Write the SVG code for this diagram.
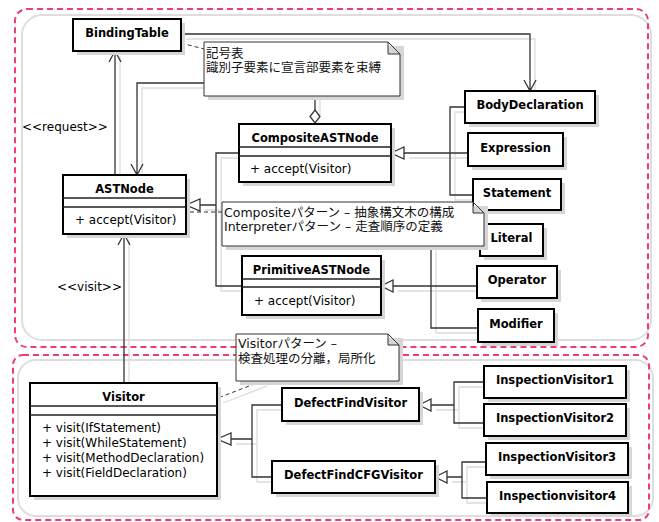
<svg xmlns="http://www.w3.org/2000/svg" width="659" height="522" viewBox="0 0 659 522">
<style>
.pk{fill:none;stroke:#ee3d70;stroke-width:2;stroke-dasharray:6 4}
.gr{fill:none;stroke:#dedede;stroke-width:2}
.sh{fill:#d6d6d6}
.box{fill:#fff;stroke:#000;stroke-width:2}
.sep{stroke:#222;stroke-width:1.3}
.nm{font-family:"DejaVu Sans",sans-serif;font-weight:bold;font-size:11.5px;text-anchor:middle;fill:#000}
.mb{font-family:"DejaVu Sans",sans-serif;font-size:12px;fill:#000}
.note{fill:#fff;stroke:#333;stroke-width:1}
.nt{font-family:"DejaVu Sans","Noto Sans CJK JP",sans-serif;font-size:12.5px;fill:#111}
.ln{fill:none;stroke:#333;stroke-width:1.3}
.lsh{fill:none;stroke:#dcdcdc;stroke-width:1.3}
.dash{fill:none;stroke:#333;stroke-width:1;stroke-dasharray:4 3}
.tri{fill:#fff;stroke:#333;stroke-width:1.3}
.lbl{font-family:"DejaVu Sans",sans-serif;font-size:12px;fill:#000}
</style>
<rect width="659" height="522" fill="#fff"/>
<g id="groups">
<rect class="gr" x="22" y="15" width="629" height="325" rx="20"/>
<rect class="pk" x="15" y="9" width="633" height="338" rx="12"/>
<rect class="gr" x="18" y="360" width="635" height="156" rx="18"/>
<rect class="pk" x="13" y="355" width="636" height="165" rx="10"/>
</g>
<g id="connector-shadows" class="lsh" transform="translate(5,5)">
<path d="M181,34 H530 V91"/>
<path d="M115,175 V51"/>
<path d="M315,110 V83 H137 V175"/>
<path d="M239,153 H216 V286 H242 M216,205 H200"/>
<path d="M404,153 H468 M465,107 H450 V195 H473"/>
<path d="M393,286 H477 M480,240 H431 V328 H478"/>
<path d="M124,383 V234"/>
<path d="M231,439 H252 M282,405 H252 V477 H272"/>
<path d="M431,405 H454 M484,382 H454 V423 H484"/>
<path d="M447,477 H462 M486,462 H462 V498 H487"/>
<path d="M262,381 L218,398"/>
</g>
<g id="connectors">
<path class="ln" d="M181,34 H530 V91 M524,80 L530,91 L536,80"/>
<path class="ln" d="M115,175 V51 M109,62 L115,51 L121,62"/>
<text class="lbl" x="22" y="131">&lt;&lt;request&gt;&gt;</text>
<path class="ln" d="M315,110 V83 H137 V175 M131,164 L137,175 L143,164"/>
<path class="tri" d="M315,110 L320,116.5 L315,123 L310,116.5 Z"/>
<path class="ln" d="M239,153 H216 V286 H242 M216,205 H200"/>
<path class="tri" d="M186,205 L200,199 L200,211 Z"/>
<path class="ln" d="M404,153 H468 M465,107 H450 V195 H473"/>
<path class="tri" d="M391,153 L404,147 L404,159 Z"/>
<path class="ln" d="M393,286 H477 M480,240 H431 V328 H478"/>
<path class="tri" d="M381,286 L393,280 L393,292 Z"/>
<path class="ln" d="M124,383 V234 M118,245 L124,234 L130,245"/>
<text class="lbl" x="57" y="291">&lt;&lt;visit&gt;&gt;</text>
<path class="dash" d="M262,381 L218,398"/>
<path class="dash" d="M181,43 L204,49"/>
<path class="dash" d="M222,212 H186"/>
<path class="ln" d="M231,439 H252 M282,405 H252 V477 H272"/>
<path class="tri" d="M217,439 L231,433 L231,445 Z"/>
<path class="ln" d="M431,405 H454 M484,382 H454 V423 H484"/>
<path class="tri" d="M419,405 L431,399 L431,411 Z"/>
<path class="ln" d="M447,477 H462 M486,462 H462 V498 H487"/>
<path class="tri" d="M435,477 L447,471 L447,483 Z"/>
</g>
<g id="BindingTable">
<rect class="sh" x="77" y="23" width="108" height="32"/>
<rect class="box" x="73" y="19" width="108" height="32"/>
<text class="nm" x="127" y="37">BindingTable</text>
</g>
<g id="BodyDeclaration">
<rect class="sh" x="469" y="95" width="130" height="32"/>
<rect class="box" x="465" y="91" width="130" height="32"/>
<text class="nm" x="530" y="109">BodyDeclaration</text>
</g>
<g id="Expression">
<rect class="sh" x="472" y="137" width="95" height="33"/>
<rect class="box" x="468" y="133" width="95" height="33"/>
<text class="nm" x="515.5" y="151.5">Expression</text>
</g>
<g id="Statement">
<rect class="sh" x="477" y="183" width="88" height="31"/>
<rect class="box" x="473" y="179" width="88" height="31"/>
<text class="nm" x="517" y="196.5">Statement</text>
</g>
<g id="Literal">
<rect class="sh" x="484" y="228" width="63" height="32"/>
<rect class="box" x="480" y="224" width="63" height="32"/>
<text class="nm" x="511.5" y="242">Literal</text>
</g>
<g id="Operator">
<rect class="sh" x="481" y="270" width="80" height="32"/>
<rect class="box" x="477" y="266" width="80" height="32"/>
<text class="nm" x="517" y="284">Operator</text>
</g>
<g id="Modifier">
<rect class="sh" x="482" y="313" width="76" height="33"/>
<rect class="box" x="478" y="309" width="76" height="33"/>
<text class="nm" x="516" y="327.5">Modifier</text>
</g>
<g id="ASTNode">
<rect class="sh" x="67" y="179" width="123" height="59"/>
<rect class="box" x="63" y="175" width="123" height="59"/>
<path class="sep" d="M63,198 H186 M63,207 H186"/>
<text class="nm" x="124.5" y="192.5">ASTNode</text>
<text class="mb" x="75" y="224">+ accept(Visitor)</text>
</g>
<g id="CompositeASTNode">
<rect class="sh" x="243" y="128" width="152" height="58"/>
<rect class="box" x="239" y="124" width="152" height="58"/>
<path class="sep" d="M239,147 H391 M239,156 H391"/>
<text class="nm" x="315" y="141.5">CompositeASTNode</text>
<text class="mb" x="250" y="173">+ accept(Visitor)</text>
</g>
<g id="PrimitiveASTNode">
<rect class="sh" x="246" y="260" width="139" height="59"/>
<rect class="box" x="242" y="256" width="139" height="59"/>
<path class="sep" d="M242,279 H381 M242,287 H381"/>
<text class="nm" x="311.5" y="273.5">PrimitiveASTNode</text>
<text class="mb" x="254" y="305">+ accept(Visitor)</text>
</g>
<g id="Visitor">
<rect class="sh" x="34" y="387" width="187" height="113"/>
<rect class="box" x="30" y="383" width="187" height="113"/>
<path class="sep" d="M30,406 H217 M30,415 H217"/>
<text class="nm" x="123.5" y="400.5">Visitor</text>
<text class="mb" x="42" y="432">+ visit(IfStatement)</text>
<text class="mb" x="42" y="447">+ visit(WhileStatement)</text>
<text class="mb" x="42" y="462">+ visit(MethodDeclaration)</text>
<text class="mb" x="42" y="477">+ visit(FieldDeclaration)</text>
</g>
<g id="DefectFindVisitor">
<rect class="sh" x="286" y="392" width="137" height="33"/>
<rect class="box" x="282" y="388" width="137" height="33"/>
<text class="nm" x="350.5" y="406.5">DefectFindVisitor</text>
</g>
<g id="DefectFindCFGVisitor">
<rect class="sh" x="276" y="465" width="163" height="32"/>
<rect class="box" x="272" y="461" width="163" height="32"/>
<text class="nm" x="353.5" y="479">DefectFindCFGVisitor</text>
</g>
<g id="InspectionVisitor1">
<rect class="sh" x="488" y="370" width="142" height="32"/>
<rect class="box" x="484" y="366" width="142" height="32"/>
<text class="nm" x="555" y="384">InspectionVisitor1</text>
</g>
<g id="InspectionVisitor2">
<rect class="sh" x="488" y="408" width="142" height="32"/>
<rect class="box" x="484" y="404" width="142" height="32"/>
<text class="nm" x="555" y="422">InspectionVisitor2</text>
</g>
<g id="InspectionVisitor3">
<rect class="sh" x="490" y="447" width="142" height="32"/>
<rect class="box" x="486" y="443" width="142" height="32"/>
<text class="nm" x="557" y="461">InspectionVisitor3</text>
</g>
<g id="Inspectionvisitor4">
<rect class="sh" x="491" y="486" width="141" height="31"/>
<rect class="box" x="487" y="482" width="141" height="31"/>
<text class="nm" x="557.5" y="499.5">Inspectionvisitor4</text>
</g>
<g id="note-binding">
<rect class="sh" x="208" y="46" width="196" height="54"/>
<path class="note" d="M204,42 H388 L400,54 V96 H204 Z M388,42 V54 H400"/>
<text class="nt" x="206" y="57.5">記号表</text>
<text class="nt" x="206" y="71.5">識別子要素に宣言部要素を束縛</text>
</g>
<g id="note-composite">
<rect class="sh" x="226" y="206" width="262" height="44"/>
<path class="note" d="M222,202 H473 L484,213 V246 H222 Z M473,202 V213 H484"/>
<text class="nt" x="224" y="216.5">Compositeパターン – 抽象構文木の構成</text>
<text class="nt" x="224" y="230.5">Interpreterパターン – 走査順序の定義</text>
</g>
<g id="note-visitor">
<rect class="sh" x="240" y="338" width="163" height="47"/>
<path class="note" d="M236,334 H388 L399,345 V381 H236 Z M388,334 V345 H399"/>
<text class="nt" x="238" y="347.5">Visitorパターン –</text>
<text class="nt" x="238" y="362.5">検査処理の分離，局所化</text>
</g>
</svg>
